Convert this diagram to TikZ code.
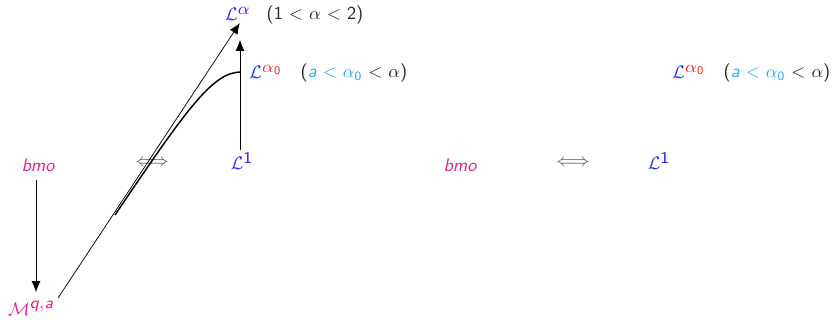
\documentclass[tikz,border=0pt]{standalone}
\usepackage{amsmath,amssymb}
\usepackage{graphicx}
\usepackage{xcolor}
\usepackage{tikz}
\usetikzlibrary{arrows.meta,positioning,calc}

\definecolor{bmocol}{RGB}{230,30,140}
\definecolor{lcol}{RGB}{40,40,250}
\definecolor{acol}{RGB}{250,40,40}
\definecolor{ccol}{RGB}{35,170,235}
\definecolor{tcol}{RGB}{35,35,35}

\newcommand{\azero}{\ensuremath{\alpha_{\mathsf{0}}}}
\newcommand{\bigexp}[1]{^{\scalebox{1.3}{$\scriptstyle #1$}}}

\begin{document}
\begin{tikzpicture}[x=0.55pt, y=-0.55pt, font=\sffamily,
    sp/.style={inner sep=1pt, text=lcol},
    bm/.style={inner sep=1pt, text=bmocol},
    cond/.style={inner sep=1pt, text=tcol},
    equiv/.style={inner sep=1pt, text=tcol!80},
    arr/.style={-{Latex[length=6pt,width=5pt]}, draw=black}]

    \useasboundingbox (0,0) rectangle (833,320);

    % === LEFT: embeddings ===
    \node[sp] (La) at (238,14) {$\mathcal{L}\bigexp{\alpha}$};
    \node[cond] (ca) at (315,15) {(1 $<$ $\alpha$ $<$ 2)};

    \node[sp] (La0) at (266,72) {$\mathcal{L}\bigexp{\textcolor{acol}{\alpha_{\mathsf{0}}}}$};
    \node[cond] (ca0) at (354,73) {(\textcolor{ccol}{\textit{a} $<$ \azero} $<$ $\alpha$)};

    \node[bm] (bmo) at (38,165) {\itshape bmo};
    \node[equiv] (eq) at (152,163) {$\Longleftrightarrow$};
    \node[sp] (L1) at (242,161) {$\mathcal{L}\bigexp{\mathsf{1}}$};

    \node[bm] (Mqa) at (31,308) {$\mathcal{M}\bigexp{\textit{q},\textit{a}}$};

    \coordinate (Ltip) at (240,40);
    \coordinate (Mtail) at (58,298);
    \coordinate (cs) at (115,215);

    \draw[arr] (36,180) -- (36,292);
    \draw[arr] (240,150) -- (Ltip);
    \draw[arr] (Mtail) -- ([xshift=1pt]La.south);
    \draw[thick] (cs) .. controls (186,110) and (212,73) .. ([xshift=-4pt]La0.west);

    % === RIGHT: same statement ===
    \node[sp] (Rb0) at (689,72) {$\mathcal{L}\bigexp{\textcolor{acol}{\alpha_{\mathsf{0}}}}$};
    \node[cond] (rc0) at (777,73) {(\textcolor{ccol}{\textit{a} $<$ \azero} $<$ $\alpha$)};

    \node[bm] (rbmo) at (460,165) {\itshape bmo};
    \node[equiv] (req) at (573,163) {$\Longleftrightarrow$};
    \node[sp] (rL1) at (659,161) {$\mathcal{L}\bigexp{\mathsf{1}}$};

\end{tikzpicture}
\end{document}
